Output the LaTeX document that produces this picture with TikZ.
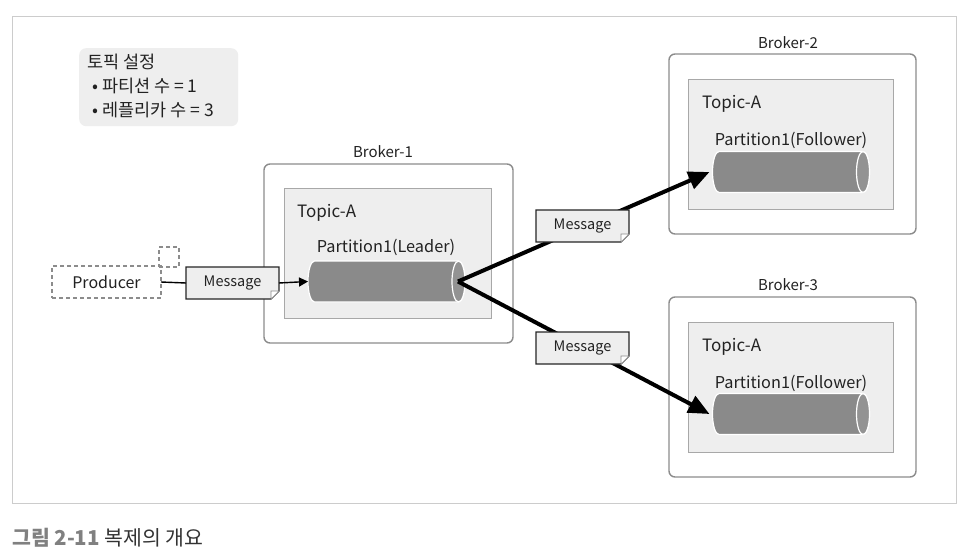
\documentclass[tikz,border=0pt]{standalone}
\usepackage{fontspec}
\setmainfont{Noto Sans CJK KR}
\usetikzlibrary{arrows.meta,calc}
\definecolor{framegray}{HTML}{CCCCCC}
\definecolor{boxgray}{HTML}{8C8C8C}
\definecolor{panel}{HTML}{EEEEEE}
\definecolor{panelline}{HTML}{A8A8A8}
\definecolor{cylgray}{HTML}{8A8A8A}
\definecolor{cylend}{HTML}{939393}
\definecolor{txt}{HTML}{222222}
\definecolor{capgray}{HTML}{808080}
\tikzset{
  broker/.style={draw=boxgray,line width=1.4pt,fill=white,rounded corners=6pt,anchor=north west,inner sep=0,outer sep=0},
  topic/.style={draw=panelline,line width=0.8pt,fill=panel,anchor=north west,inner sep=0,outer sep=0},
  cylbox/.style={inner sep=0,outer sep=0,minimum width=157pt,minimum height=41pt},
  lbl/.style={text=txt,inner sep=0,font=\fontsize{15}{18}\selectfont},
  setlbl/.style={text=txt,inner sep=0,anchor=west,font=\fontsize{17.5}{20}\selectfont},
  biglbl/.style={text=txt,inner sep=0,font=\fontsize{17}{20}\selectfont},
  partlbl/.style={text=txt,inner sep=0,font=\fontsize{16.3}{19}\selectfont},
  msgbox/.style={inner sep=0,outer sep=0,minimum width=93pt,minimum height=32pt,text=txt,font=\fontsize{14.5}{17}\selectfont},
  thick arrow/.style={line width=4pt,-{Triangle[length=21pt,width=18pt]}},
}
\newcommand{\drawcyl}[1]{%
  \path[fill=cylgray,draw=white,line width=1.2pt]
    ([xshift=6.5pt]#1.north west) arc[start angle=90,end angle=270,x radius=6.5pt,y radius=20.5pt]
    -- ([xshift=-6.5pt]#1.south east) arc[start angle=-90,end angle=90,x radius=6.5pt,y radius=20.5pt] -- cycle;
  \path[fill=cylend,draw=white,line width=1.2pt] ([xshift=-6.5pt]#1.east) ellipse[x radius=6.5pt,y radius=20.5pt];}
\newcommand{\drawmsg}[1]{%
  \path[fill=panel,draw=black!85,line width=1.1pt]
    (#1.north west) -- (#1.north east) -- ([yshift=8pt]#1.south east) -- ([xshift=-8pt]#1.south east) -- (#1.south west) -- cycle;
  \path[fill=white,draw=black!45,line width=0.6pt]
    ([yshift=8pt]#1.south east) -- ([xshift=-8pt]#1.south east) -- ([xshift=-8pt,yshift=8pt]#1.south east) -- cycle;}
\begin{document}
\begin{tikzpicture}[x=1pt,y=-1pt]
\useasboundingbox (0,0) rectangle (970,554);
\fill[white] (0,0) rectangle (970,554);
% outer frame
\node[draw=framegray,line width=1pt,anchor=north west,inner sep=0,outer sep=0,minimum width=944pt,minimum height=487pt] (frame) at (12,16) {};
% settings box
\node[fill=panel,rounded corners=7pt,anchor=north west,inner sep=0,minimum width=159pt,minimum height=78pt] (settings) at (79,48) {};
\node[setlbl] (s1) at (87,62) {토픽 설정};
\node[setlbl] (s2) at (92,86) {• 파티션 수 = 1};
\node[setlbl] (s3) at (92,110) {• 레플리카 수 = 3};
% brokers
\node[broker,minimum width=249pt,minimum height=179pt] (b1) at (264,164) {};
\node[topic,minimum width=207pt,minimum height=130pt] (t1) at (284,188) {};
\node[broker,minimum width=247pt,minimum height=180pt] (b2) at (669,54) {};
\node[topic,minimum width=205pt,minimum height=130pt] (t2) at (688,79) {};
\node[broker,minimum width=247pt,minimum height=180pt] (b3) at (669,297) {};
\node[topic,minimum width=205pt,minimum height=130pt] (t3) at (688,322) {};
\node[lbl] (b1l) at (383,152) {Broker-1};
\node[lbl] (b2l) at (788,43) {Broker-2};
\node[lbl] (b3l) at (788,285) {Broker-3};
\node[biglbl,anchor=west] (t1l) at (297,213) {Topic-A};
\node[biglbl,anchor=west] (t2l) at (702,104) {Topic-A};
\node[biglbl,anchor=west] (t3l) at (702,347) {Topic-A};
\node[partlbl] (p1l) at (386,247) {Partition1(Leader)};
\node[partlbl] (p2l) at (791,140) {Partition1(Follower)};
\node[partlbl] (p3l) at (791,383) {Partition1(Follower)};
% cylinders
\node[cylbox] (c1) at (386.5,281.5) {};
\node[cylbox] (c2) at (791,172) {};
\node[cylbox] (c3) at (791,414) {};
\drawcyl{c1}
\drawcyl{c2}
\drawcyl{c3}
% replication arrows
\coordinate (c1end) at ([xshift=-7pt]c1.east);
\draw[thick arrow] (c1end) -- ([xshift=-3pt]c2.west);
\draw[thick arrow] (c1end) -- ([xshift=-3pt]c3.west);
% producer
\node[draw=black!45,dash pattern=on 4pt off 3pt,line width=1.3pt,inner sep=0,outer sep=0,minimum width=109pt,minimum height=32pt,text=txt,font=\fontsize{16}{19}\selectfont] (prod) at (106.5,282) {Producer};
\node[draw=black!45,dash pattern=on 4pt off 3pt,line width=1.3pt,inner sep=0,outer sep=0,minimum width=20pt,minimum height=20pt] (sq) at (169,257) {};
% messages
\node[msgbox] (m1) at (232.5,283) {};
\node[msgbox] (m2) at (582.5,226) {};
\node[msgbox] (m3) at (582.5,348) {};
\drawmsg{m1}
\drawmsg{m2}
\drawmsg{m3}
\node[msgbox] (m1t) at (m1) {Message};
\node[msgbox] (m2t) at (m2) {Message};
\node[msgbox] (m3t) at (m3) {Message};
\draw[line width=1.4pt] (prod.east) -- (m1.west);
\draw[line width=1.4pt,-{Triangle[length=9pt,width=9pt]}] (m1.east) -- (c1.west);
% caption
\node[anchor=west,inner sep=0,font=\fontsize{20.5}{24}\selectfont] (cap) at (12,538) {\textcolor{capgray}{\bfseries 그림 2-11}\ \textcolor{black!80}{복제의 개요}};
\end{tikzpicture}
\end{document}
